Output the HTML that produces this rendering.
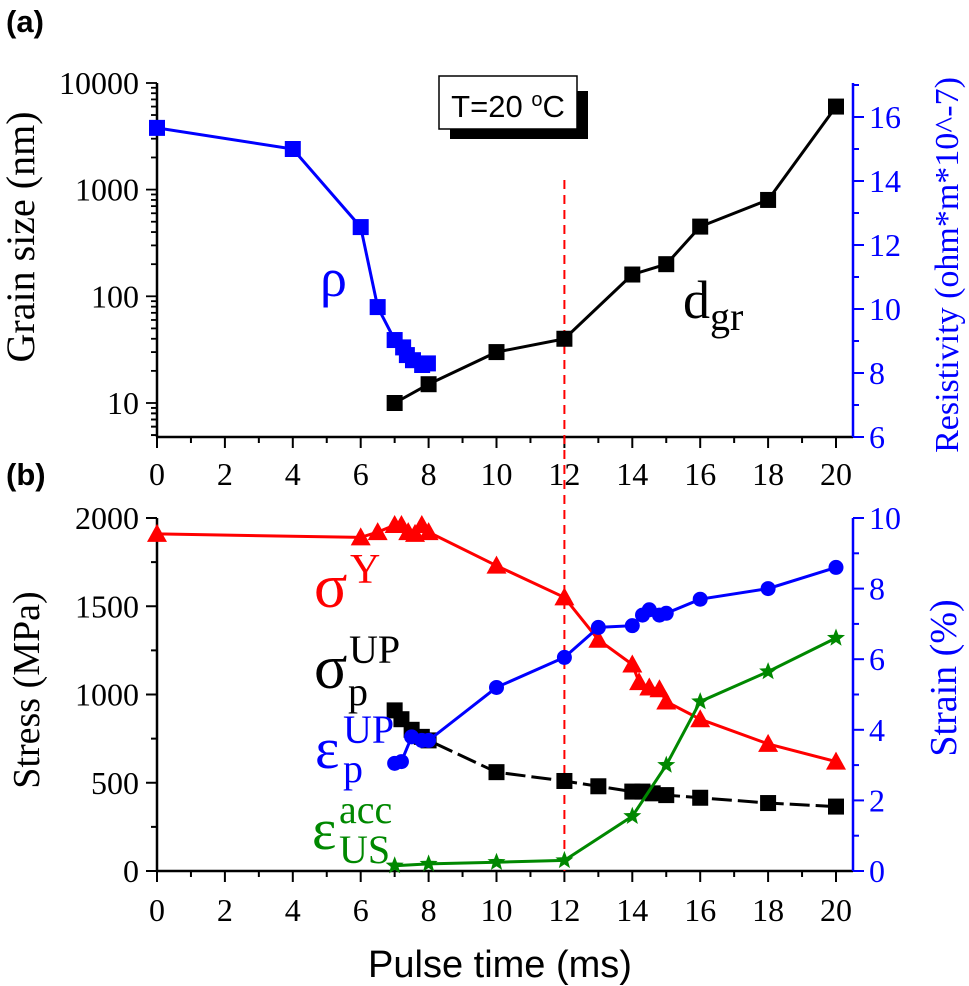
<!DOCTYPE html>
<html><head><meta charset="utf-8"><style>
body{margin:0;background:#fff}
svg{display:block}
.serif{font-family:"Liberation Serif",serif}
.sans{font-family:"Liberation Sans",sans-serif}
</style></head><body>
<svg id="chart" width="969" height="986" viewBox="0 0 969 986" xmlns="http://www.w3.org/2000/svg">
<g id="g"></g>
</svg>
<script>
const xTicks=[0,2,4,6,8,10,12,14,16,18,20];
const grainTicks=[10,100,1000,10000];
const resTicks=[6,8,10,12,14,16];
const stressTicks=[0,500,1000,1500,2000];
const strainTicks=[0,2,4,6,8,10];
const rhoX=[0,4,6,6.5,7,7.25,7.36,7.54,7.81,7.98];
const rhoY=[15.66,15.0,12.56,10.06,9.03,8.8,8.56,8.4,8.25,8.3];
const grainX=[7,8,10,12,14,15,16,18,20];
const grainY=[10,15,30,40,160,200,450,800,6000];
const sigYX=[0,6,6.5,7,7.2,7.4,7.6,7.8,8,10,12,13,14,14.2,14.5,14.8,15,16,18,20];
const sigYY=[1910,1890,1920,1960,1960,1920,1910,1960,1920,1730,1550,1310,1170,1070,1040,1030,960,860,720,620];
const sigPX=[7,7.2,7.5,7.8,8,10,12,13,14,14.3,14.6,15,16,18,20];
const sigPY=[910,860,800,760,740,560,510,480,450,450,440,430,415,385,365];
const epsPX=[7,7.2,7.5,7.8,8,10,12,13,14,14.3,14.5,14.8,15,16,18,20];
const epsPY=[3.05,3.1,3.8,3.7,3.7,5.2,6.05,6.9,6.95,7.25,7.4,7.25,7.3,7.7,8.0,8.6];
const epsUX=[7,8,10,12,14,15,16,18,20];
const epsUY=[0.15,0.2,0.25,0.3,1.55,3.0,4.8,5.65,6.6];

const NS="http://www.w3.org/2000/svg";
const G=document.getElementById('g');
function el(t,a,p){const e=document.createElementNS(NS,t);for(const k in a)e.setAttribute(k,a[k]);(p||G).appendChild(e);return e;}
const X=v=>157+v*33.95;
const L=157,R=853,T1=83,B1=437,T2=518,B2=871;
const Ygr=v=>403-(Math.log10(v)-1)*106.7;
const Yres=v=>437-(v-6)*32;
const Ys=v=>871-v*0.1765;
const Yst=v=>871-v*35.3;

function axesFrame(top,bot,colR){
  let a=el('line',{x1:L,y1:top,x2:L,y2:bot,stroke:'#000','stroke-width':2.5});
  
  a=el('line',{x1:L,y1:bot,x2:R,y2:bot,stroke:'#000','stroke-width':2.5});
  
  a=el('line',{x1:R,y1:top,x2:R,y2:bot,stroke:colR,'stroke-width':2.5});
  
  for(let v=0;v<=20;v+=1){el('line',{x1:X(v),y1:bot,x2:X(v),y2:bot+(v%2?6:11),stroke:'#000','stroke-width':2});}
}
function txt(x,y,s,cls,size,fill,anchor,name,extra){
  const t=el('text',Object.assign({x:x,y:y,'class':cls,'font-size':size,fill:fill,'text-anchor':anchor||'middle'},extra||{}));
  t.textContent=s;
  
  
  return t;
}
// panel a
axesFrame(T1,B1,'#00f');
for(let e=0;e<=3;e++){for(let m=1;m<10;m++){const v=m*Math.pow(10,e);const y=Ygr(v);if(y<=B1&&y>=T1)el('line',{x1:L,y1:y,x2:L-(m==1?11:6),y2:y,stroke:'#000','stroke-width':1.8});}}
for(let m=5;m<10;m++){const y=Ygr(m);el('line',{x1:L,y1:y,x2:L-6,y2:y,stroke:'#000','stroke-width':1.8});}
el('line',{x1:L,y1:T1,x2:L-11,y2:T1,stroke:'#000','stroke-width':1.8});
grainTicks.forEach(v=>txt(L-18,Ygr(v)+11,String(v),'serif',32,'#000','end','grain-tick-label'));
for(let v=6;v<=17;v+=1){const y=Yres(v);if(y>=T1)el('line',{x1:R,y1:y,x2:R+(v%2?6:11),y2:y,stroke:'#00f','stroke-width':2});}
resTicks.forEach(v=>txt(R+16,Yres(v)+11,String(v),'serif',32,'#00f','start','resistivity-tick-label'));
xTicks.forEach(v=>txt(X(v),B1+48,String(v),'serif',32,'#000','middle','x-tick-label-a'));
txt(0,0,'Grain size (nm)','serif',40,'#000','middle','grain-size-axis-title',{transform:'translate(34,237) rotate(-90)'});
txt(0,0,'Resistivity (ohm*m*10^-7)','serif',34,'#00f','middle','resistivity-axis-title',{transform:'translate(958,265) rotate(-90)'});
// panel b
axesFrame(T2,B2,'#00f');
for(let v=0;v<=2000;v+=250)el('line',{x1:L,y1:Ys(v),x2:L-(v%500?6:11),y2:Ys(v),stroke:'#000','stroke-width':2});
stressTicks.forEach(v=>txt(L-18,Ys(v)+11,String(v),'serif',32,'#000','end','stress-tick-label'));
for(let v=0;v<=10;v+=1)el('line',{x1:R,y1:Yst(v),x2:R+(v%2?6:11),y2:Yst(v),stroke:'#00f','stroke-width':2});
strainTicks.forEach(v=>txt(R+16,Yst(v)+11,String(v),'serif',32,'#00f','start','strain-tick-label'));
xTicks.forEach(v=>txt(X(v),B2+50,String(v),'serif',32,'#000','middle','x-tick-label-b'));
txt(0,0,'Stress (MPa)','serif',38,'#000','middle','stress-axis-title',{transform:'translate(39,690) rotate(-90)'});
txt(0,0,'Strain (%)','serif',38,'#00f','middle','strain-axis-title',{transform:'translate(956,678) rotate(-90)'});
txt(500,977,'Pulse time (ms)','sans',38,'#000','middle','x-axis-title');
txt(6,32,'(a)','sans',31,'#000','start','panel-a-label',{'font-weight':'bold'});
txt(6,485,'(b)','sans',31,'#000','start','panel-b-label',{'font-weight':'bold'});
// red dashed
let dl=el('line',{x1:X(12),y1:180,x2:X(12),y2:B2,stroke:'#f00','stroke-width':2,'stroke-dasharray':'9,6'});


function series(xs,ys,fx,fy,col,marker,name,dash){
  const pts=xs.map((v,i)=>X(v).toFixed(1)+','+fy(ys[i]).toFixed(1)).join(' ');
  const p=el('polyline',{points:pts,fill:'none',stroke:col,'stroke-width':3});
  if(dash)p.setAttribute('stroke-dasharray',dash);
  
  xs.forEach((v,i)=>{
    const x=X(v),y=fy(ys[i]);let m;
    if(marker=='sq')m=el('rect',{x:x-8,y:y-8,width:16,height:16,fill:col});
    else if(marker=='tri')m=el('polygon',{points:`${x},${y-10} ${x+10},${y+8} ${x-10},${y+8}`,fill:col});
    else if(marker=='circ')m=el('circle',{cx:x,cy:y,r:7.5,fill:col});
    else{let s='';for(let k=0;k<10;k++){const r=k%2?4:9.5,a=-Math.PI/2+k*Math.PI/5;s+=(x+r*Math.cos(a)).toFixed(1)+','+(y+r*Math.sin(a)).toFixed(1)+' ';}m=el('polygon',{points:s,fill:col});}
    
  });
}
series(rhoX,rhoY,X,Yres,'#00f','sq','resistivity');
series(grainX,grainY,X,Ygr,'#000','sq','grain-size');
series(sigYX,sigYY,X,Ys,'#f00','tri','yield-stress');
series(sigPX,sigPY,X,Ys,'#000','sq','peak-stress','20,6');
series(epsPX,epsPY,X,Yst,'#00f','circ','peak-strain');
series(epsUX,epsUY,X,Yst,'#080','star','accumulated-strain');

// labels
txt(320,296,'ρ','serif',54,'#00f','start','rho-label');
let t=txt(683,318,'d','serif',54,'#000','start','dgr-label');
const ts=el('tspan',{dy:12,'font-size':40},t);ts.textContent='gr';
txt(314,607,'σ','serif',62,'#f00','start','sigma-y-label');
txt(350,583,'Y','serif',42,'#f00','start','sigma-y-sup');
txt(314,688,'σ','serif',62,'#000','start','sigma-p-label');
txt(349,663,'UP','serif',40,'#000','start','sigma-p-sup');
txt(348,705,'p','serif',40,'#000','start','sigma-p-sub');
txt(315,768,'ε','serif',58,'#00f','start','eps-p-label');
txt(343,743,'UP','serif',40,'#00f','start','eps-p-sup');
txt(343,782,'p','serif',40,'#00f','start','eps-p-sub');
txt(312,849,'ε','serif',58,'#080','start','eps-us-label');
txt(339,823,'acc','serif',40,'#080','start','eps-us-sup');
txt(339,863,'US','serif',40,'#080','start','eps-us-sub');
// T box
let sh=el('rect',{x:450,y:91,width:138,height:48,fill:'#000'});

let bx=el('rect',{x:439,y:76,width:138,height:53,fill:'#fff',stroke:'#000','stroke-width':1.5});

t=txt(508,117,'T=20 ','sans',31,'#000','middle','temperature-label');
let s1=el('tspan',{dy:-11,'font-size':20},t);s1.textContent='o';
let s2=el('tspan',{dy:11},t);s2.textContent='C';
</script>
</body></html>
